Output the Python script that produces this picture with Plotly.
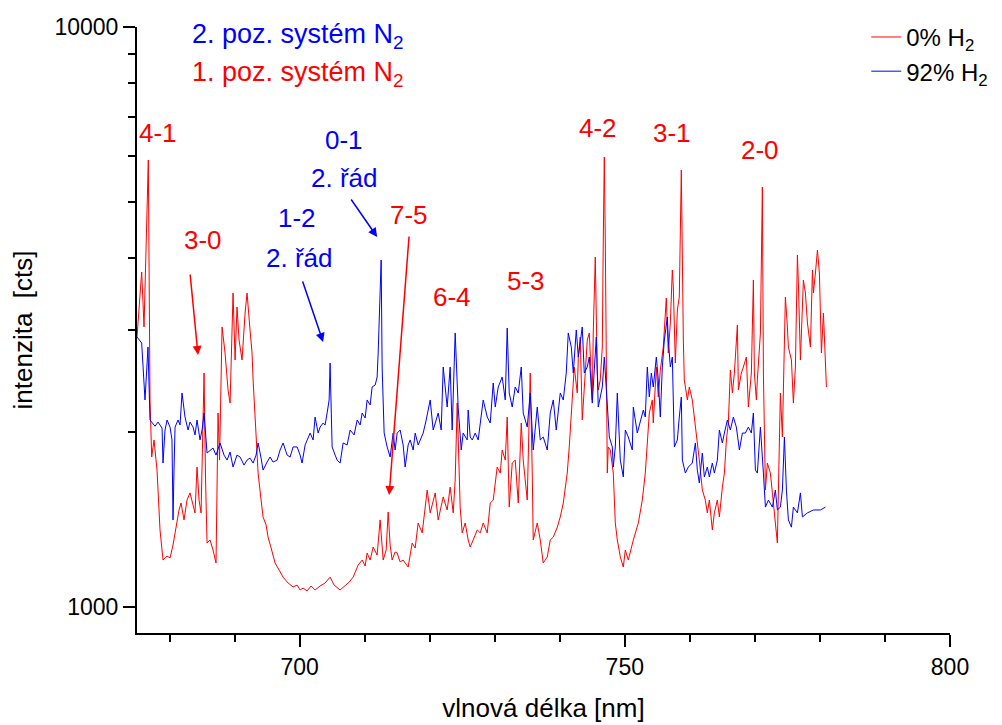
import numpy as np
import plotly.graph_objects as go

# 0% H2 spectrum (red)
red_nm = [
    675.00, 675.72, 676.08, 676.49, 676.74, 677.00, 677.26, 677.62, 678.08, 678.54,
    679.00, 679.62, 680.08, 680.54, 681.00, 681.46, 681.77, 682.23, 682.69, 683.15,
    683.62, 683.92, 684.23, 684.54, 684.85, 685.08, 685.31, 685.54, 685.77, 686.23,
    686.69, 687.15, 687.46, 687.69, 688.08, 688.54, 689.00, 689.31, 689.77, 690.08,
    690.38, 690.69, 691.15, 691.62, 691.92, 692.38, 692.69, 692.85, 693.31, 693.62,
    694.08, 694.38, 694.85, 695.15, 695.62, 696.23, 696.85, 697.46, 698.23, 699.00,
    699.62, 700.08, 700.54, 701.15, 701.77, 702.38, 703.15, 703.92, 704.69, 705.31,
    706.23, 707.00, 707.62, 708.23, 709.00, 709.62, 710.08, 710.38, 710.85, 711.31,
    711.92, 712.38, 712.85, 713.31, 713.62, 713.92, 714.23, 714.69, 715.00, 715.46,
    715.92, 716.69, 717.31, 717.77, 718.23, 718.85, 719.62, 720.08, 720.85, 721.31,
    722.08, 722.69, 723.15, 723.62, 723.92, 724.23, 724.69,
    725.00, 725.46, 725.92, 726.23, 726.69, 727.31, 727.77, 728.23, 728.85, 729.31,
    729.77, 730.38, 730.85, 731.15, 731.62, 731.92, 732.23, 732.69, 733.15, 733.62,
    734.08, 734.38, 735.00, 735.31, 735.46, 735.77, 735.92, 736.54, 737.00, 737.46,
    738.08, 738.54, 739.00, 739.62, 740.08, 740.54, 741.15, 741.46, 741.92, 742.23,
    742.69, 742.85, 743.15, 743.46, 743.92, 744.23, 744.54, 745.00, 745.15, 745.46,
    745.77, 745.92, 746.23, 746.54, 746.69, 746.85, 747.00, 747.31, 747.46, 747.77,
    748.23, 748.54, 748.85, 749.31, 749.77, 750.08, 750.54,
    751.31, 752.08, 752.69, 753.15, 753.46, 753.77, 754.23, 754.38, 754.85, 755.15,
    755.46, 755.92, 756.08, 756.38, 756.69, 757.00, 757.31, 757.46, 757.77, 758.08,
    758.38, 758.69, 759.00, 759.15, 759.62, 759.92, 760.38, 760.69, 761.15, 761.46,
    761.92, 762.38, 762.69, 763.00, 763.46, 763.77, 764.23, 764.54, 765.00, 765.31,
    765.62, 765.92, 766.23, 766.54, 766.85, 767.31, 767.46, 767.92, 768.23, 768.69,
    769.00, 769.46, 769.77, 769.92, 770.23, 770.38, 770.85, 771.15, 771.31, 771.62,
    771.92, 772.38, 772.69, 773.00, 773.46, 773.62, 773.92, 774.23, 774.38, 774.69,
    775.00, 775.15, 775.62, 775.92, 776.23, 776.54, 776.69, 777.00, 777.46, 777.77,
    778.08, 778.54, 778.85, 779.00, 779.31, 779.62, 779.92, 780.23, 780.54, 781.00,
]
red_cts = [
    2921, 3781, 3040, 4521, 5898, 2275, 1814, 1941, 1722, 1358,
    1205, 1224, 1215, 1279, 1368, 1470, 1511, 1413, 1529, 1573,
    1499, 1453, 1743, 1529, 1453, 2101, 2532, 1656, 1289, 1305,
    1254, 1191, 2160, 1792, 3040, 2741, 2366, 2247, 3478, 2666,
    3290, 2886, 2666, 3213, 3478, 3004, 2741, 2463, 1964, 1702,
    1529, 1430, 1385, 1320, 1264, 1191, 1158, 1126, 1100, 1083,
    1091, 1070, 1078, 1066, 1087, 1070, 1087, 1100, 1126, 1091,
    1070, 1091, 1104, 1126, 1181, 1205, 1177, 1239, 1205, 1269,
    1229, 1413, 1205, 1254, 1458, 1279, 1205, 1244, 1239, 1196,
    1205, 1172, 1289, 1264, 1396, 1342, 1591, 1453, 1573, 1413,
    1548, 1470, 1610, 1453, 1656, 2247, 1487,
    1342, 1396, 1305, 1269, 1305, 1358, 1342, 1396, 1342, 1511,
    1529, 1743, 1702, 1865, 1792, 2126, 1487, 1771, 1792, 1511,
    2076, 1792, 1529, 2275, 2532, 1702, 1305, 1396, 1305, 1191,
    1220, 1305, 1320, 1373, 1430, 1511, 1702, 1888, 2275, 2593,
    2339, 2698, 2921, 2101, 2532, 2886, 2968, 2275, 2968, 4012,
    2532, 2366, 2463, 2807, 4293, 5968, 4293, 1702, 1888, 1865,
    1702, 1396, 1305, 1220, 1172, 1254, 1205,
    1305, 1396, 1529, 1702, 1941, 2160, 2275, 2076, 2593, 2302,
    2562, 2807, 3004, 3410, 2741, 3089, 3811, 3562, 2634, 3251,
    3424, 5668, 2886, 2463, 2275, 2395, 2275, 2126, 1941, 1792,
    1591, 1529, 1453, 1529, 1358, 1453, 1529, 1430, 1610, 1702,
    1941, 2076, 2562, 2339, 2532, 3064, 2366, 2532, 2593, 2698,
    2212, 2532, 3663, 2532, 2275, 2463, 2968, 5299, 2532, 1591,
    1771, 1702, 1573, 1453, 1289, 1591, 2339, 1964, 2395, 3424,
    3040, 2807, 2666, 2247, 2593, 4045, 3620, 2666, 3663, 3478,
    3089, 2807, 3811, 3478, 3766, 4126, 3766, 2741, 3213, 2395,
]

# 92% H2 spectrum (blue)
blue_nm = [
    675.00, 675.72, 676.23, 676.69, 677.00, 677.31, 677.77, 678.23, 678.85, 679.00,
    679.31, 679.62, 680.08, 680.38, 680.54, 680.69, 680.85, 681.31, 681.62, 681.92,
    682.38, 682.85, 683.15, 683.62, 683.92, 684.23, 684.69, 685.00, 685.31, 685.77,
    686.23, 686.69, 687.15, 687.77, 688.38, 688.85, 689.31, 689.77, 690.38, 690.85,
    691.46, 691.92, 692.38, 692.85, 693.31, 693.62, 694.08, 694.38, 695.00, 695.46,
    695.92, 696.54, 697.00, 697.46, 698.08, 698.54, 699.00, 699.62, 700.08, 700.38,
    700.85, 701.15, 701.62, 702.08, 702.38, 702.85, 703.15, 703.62, 703.92, 704.23,
    704.54, 704.69, 704.85, 705.00, 705.46, 705.77, 706.23, 706.69, 707.31, 707.77,
    708.38, 708.85, 709.31, 709.62, 710.08, 710.38, 710.85, 711.15, 711.62, 711.92,
    712.08, 712.31, 712.54, 712.69, 713.00, 713.46, 713.92, 714.38, 714.69, 715.00,
    715.46, 715.92, 716.23, 716.69, 717.00, 717.46, 717.77, 718.23, 718.54, 719.00,
    719.46, 720.08, 720.54, 721.00, 721.31, 721.77, 722.08, 722.69, 723.15, 723.46,
    723.92, 724.38, 724.85, 725.15, 725.77, 725.92, 726.23, 726.54, 727.00, 727.46,
    727.77, 728.23, 728.85, 729.31, 729.77, 730.08, 730.54, 731.15, 731.62, 731.92,
    732.23, 732.69, 733.15, 733.62, 734.08, 734.38, 735.00, 735.46, 735.92, 736.54,
    737.00, 737.46, 738.08, 738.54, 739.00, 739.46, 740.08, 740.54, 741.00, 741.31,
    741.77, 742.08, 742.54, 742.85, 743.46, 743.77, 744.23, 744.54, 745.00, 745.31,
    745.62, 745.92, 746.54, 746.85, 747.31, 747.62, 748.08, 748.23, 748.54, 748.85,
    749.31, 749.77, 750.08, 750.54, 751.15, 751.31, 751.92, 752.38, 752.85, 753.15,
    753.46, 753.77, 754.08, 754.38, 754.85, 755.15, 755.46, 755.77, 756.08, 756.54,
    756.69, 757.00, 757.31, 757.62, 758.08, 758.38, 758.69, 758.85, 759.31, 759.77,
    760.38, 760.85, 761.15, 761.46, 761.92, 762.23, 762.69, 763.00, 763.46, 763.77,
    764.23, 764.54, 765.00, 765.31, 765.77, 766.23, 766.69, 767.15, 767.62, 768.08,
    768.54, 769.00, 769.46, 769.77, 770.08, 770.38, 770.85, 771.31, 771.62, 772.08,
    772.69, 773.15, 773.46, 773.92, 774.23, 774.54, 774.85, 775.15, 775.62, 775.92,
    776.54, 777.00, 777.31, 778.08, 779.00, 780.08, 780.85,
]
blue_cts = [
    2921, 2852, 2275, 2807, 2101, 2076, 2050, 2084, 2035, 1771,
    2019, 2101, 2043, 1941, 1413, 1722, 2043, 2101, 2060, 2339,
    2126, 2019, 2084, 2043, 1980, 2101, 1941, 2019, 2160, 1843,
    1865, 1880, 1828, 1918, 1828, 1792, 1850, 1743, 1828, 1814,
    1757, 1792, 1806, 1771, 1828, 1918, 1806, 1722, 1778, 1814,
    1778, 1792, 1865, 1918, 1828, 1814, 1888, 1888, 1828, 1771,
    1903, 1941, 1995, 1941, 2126, 1995, 2043, 2076, 2060, 2160,
    2275, 2634, 2186, 1888, 1828, 1792, 1771, 1918, 1903, 2019,
    1980, 2101, 2060, 2160, 2118, 2275, 2230, 2395, 2414, 2492,
    2741, 3383, 3966, 2593, 1995, 1888, 1814, 1995, 1865, 1995,
    2019, 1903, 1743, 1903, 1941, 1865, 1995, 1903, 1941, 1995,
    2101, 2275, 2019, 2101, 2160, 2019, 2593, 2212, 2593, 2019,
    2968, 2212, 1865, 1995, 1941, 2186, 1964, 1941, 1995, 1941,
    2060, 2275, 2126, 2076, 2433, 2212, 2395, 2492, 2275, 3027,
    2339, 2212, 2395, 2339, 2593, 2160, 2043, 2339, 1865, 2212,
    1941, 1964, 1865, 2160, 2275, 2019, 2339, 2275, 2532, 2968,
    2807, 2532, 3004, 2698, 3040, 2532, 2593, 2698, 2247, 2532,
    2921, 2212, 2395, 2698, 2212, 1964, 1888, 1743, 1888, 2339,
    1792, 1676, 2019, 1964, 1865, 2212, 1995, 2101, 2186, 2126,
    2593, 2302, 2532, 2395, 2698, 2463, 2126, 2593, 2886, 3162,
    2886, 2593, 2698, 1888, 1941, 2126, 2302, 1792, 1702, 1743,
    1771, 1918, 1722, 1636, 1843, 1676, 1743, 1676, 1771, 1702,
    1792, 2019, 1918, 1995, 2101, 2019, 2126, 2043, 1865, 1995,
    1995, 2043, 1995, 2160, 1722, 1702, 2043, 1702, 1487, 1529,
    1487, 1591, 1470, 1487, 1591, 1964, 1591, 1413, 1373, 1487,
    1453, 1573, 1430, 1453, 1470, 1470, 1487,
]

assert len(red_nm) == len(red_cts)
assert len(blue_nm) == len(blue_cts)

series_names = ["0% H<sub>2</sub>", "92% H<sub>2</sub>"]
series_colors = ["#FF0000", "#0000FF"]

# band labels: text, wavelength, counts, colour
label_texts = [
    "2. poz. systém N<sub>2</sub>", "1. poz. systém N<sub>2</sub>",
    "4-1", "3-0", "1-2", "2. řád", "0-1", "2. řád",
    "7-5", "6-4", "5-3", "4-2", "3-1", "2-0",
]
label_nm = [683.15, 683.15, 678.23, 685.15, 699.62, 699.92, 706.85, 706.85,
            716.85, 723.46, 734.85, 745.92, 757.31, 770.85]
label_cts = [9660, 8297, 6561, 4295, 4688, 3999, 6383, 5495,
             4742, 3420, 3648, 6699, 6561, 6138]
label_colors = ["blue", "red", "red", "red", "blue", "blue", "blue", "blue",
                "red", "red", "red", "red", "red", "red"]
label_anchor = ["left", "left"] + ["center"] * 12
label_size = [27, 27] + [26] * 12

# arrows: head position and tail offset in pixels
arrow_nm = [684.38, 703.62, 711.92, 713.77]
arrow_cts = [2720, 2864, 4345, 1560]
arrow_dx = [-8, -21, -27, 20]
arrow_dy = [-82, -62, -39, -260]
arrow_colors = ["red", "blue", "blue", "red"]

font_family = "Liberation Sans, Arial, sans-serif"

fig = go.Figure()
for name, color, xs, ys in zip(series_names, series_colors,
                               [red_nm, blue_nm], [red_cts, blue_cts]):
    fig.add_trace(go.Scatter(x=xs, y=ys, mode="lines", name=name,
                             line=dict(color=color, width=1)))

for text, x, y, color, anchor, size in zip(label_texts, label_nm, label_cts,
                                           label_colors, label_anchor, label_size):
    fig.add_annotation(x=x, y=np.log10(y), text=text, showarrow=False,
                       xanchor=anchor, yanchor="middle",
                       font=dict(size=size, color=color, family=font_family))

for x, y, dx, dy, color in zip(arrow_nm, arrow_cts, arrow_dx, arrow_dy, arrow_colors):
    fig.add_annotation(x=x, y=np.log10(y), text="", showarrow=True,
                       ax=dx, ay=dy, arrowhead=2, arrowsize=1.2,
                       arrowwidth=1.5, arrowcolor=color)

# page body adds an 8 px offset, so the figure is 8 px smaller each way
fig.update_layout(
    width=994,
    height=717,
    margin=dict(l=129, r=52, t=19, b=92, autoexpand=False),
    plot_bgcolor="white",
    paper_bgcolor="white",
    font=dict(family=font_family, size=23, color="black"),
    legend=dict(x=0.897, y=1.02, xanchor="left", yanchor="top",
                font=dict(size=24), bgcolor="rgba(0,0,0,0)",
                tracegroupgap=0),
)
fig.update_xaxes(
    automargin=False,
    range=[675, 800],
    tickvals=[700, 750, 800],
    ticks="outside",
    ticklen=12,
    tickwidth=2,
    tickcolor="black",
    minor=dict(dtick=10, tick0=0, ticks="outside", ticklen=7,
               tickwidth=2, tickcolor="black"),
    showline=True,
    linecolor="black",
    linewidth=2,
    showgrid=False,
    zeroline=False,
    title=dict(text="vlnová délka [nm]", font=dict(size=26), standoff=20),
)
fig.update_yaxes(
    automargin=False,
    type="log",
    range=[np.log10(902), 4],
    tickvals=[1000, 10000],
    ticktext=["1000", "10000"],
    ticks="outside",
    ticklen=12,
    tickwidth=2,
    tickcolor="black",
    minor=dict(tickvals=[2000, 3000, 4000, 5000, 6000, 7000, 8000, 9000],
               ticks="outside", ticklen=7, tickwidth=2, tickcolor="black"),
    showline=True,
    linecolor="black",
    linewidth=2,
    showgrid=False,
    zeroline=False,
    title=dict(text="intenzita  [cts]", font=dict(size=26), standoff=18),
)

fig.write_html("out.html")
